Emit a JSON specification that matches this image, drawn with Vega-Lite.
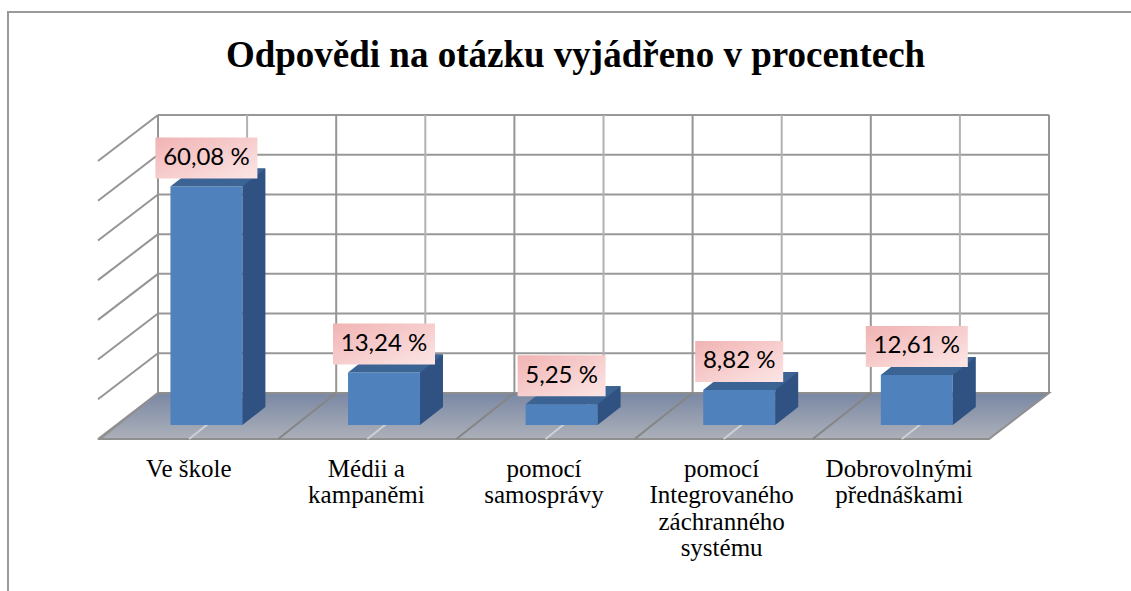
{
  "$schema": "https://vega.github.io/schema/vega-lite/v6.json",
  "autosize": {"type": "none"},
  "padding": {"left": 8, "top": 12, "right": 0, "bottom": 0},
  "width": 1123,
  "height": 579,
  "background": "white",
  "title": {
    "text": "Odpovědi na otázku vyjádřeno v procentech",
    "font": "Liberation Serif",
    "fontSize": 37,
    "fontWeight": "bold",
    "color": "#000000",
    "anchor": "middle",
    "baseline": "alphabetic",
    "offset": -92,
    "dx": 6
  },
  "datasets": {
    "bars": [
      {"cat": "Ve škole", "value": 60.08, "label": "60,08 %"},
      {"cat": "Médii a kampaněmi", "value": 13.24, "label": "13,24 %"},
      {"cat": "pomocí samosprávy", "value": 5.25, "label": "5,25 %"},
      {"cat": "pomocí Integrovaného záchranného systému", "value": 8.82, "label": "8,82 %"},
      {"cat": "Dobrovolnými přednáškami", "value": 12.61, "label": "12,61 %"}
    ],
    "hgrid": [{"v": 0}, {"v": 10}, {"v": 20}, {"v": 30}, {"v": 40}, {"v": 50}, {"v": 60}, {"v": 70}],
    "vgrid": [{"k": 0}, {"k": 0.5}, {"k": 1}, {"k": 1.5}, {"k": 2}, {"k": 2.5}, {"k": 3}, {"k": 3.5}, {"k": 4}, {"k": 4.5}, {"k": 5}]
  },
  "data": {"name": "bars"},
  "layer": [
    {
      "layer": [
        {
          "data": {"name": "hgrid"},
          "mark": {"type": "rule", "color": "#989898", "strokeWidth": 2, "yOffset": -32},
          "encoding": {
            "x": {"datum": 0, "type": "quantitative", "scale": {"domain": [0, 5], "range": [150, 1041], "nice": false, "zero": false}, "axis": null},
            "x2": {"datum": 5},
            "y": {"field": "v", "type": "quantitative", "scale": {"domain": [0, 70], "range": [413, 135], "nice": false}, "axis": null}
          }
        },
        {
          "data": {"name": "vgrid"},
          "mark": {"type": "rule", "strokeWidth": 2, "yOffset": -32, "y2Offset": -32},
          "encoding": {
            "x": {"field": "k", "type": "quantitative", "axis": null},
            "y": {"datum": 0, "type": "quantitative", "axis": null},
            "y2": {"datum": 70},
            "color": {"condition": {"test": "datum.k % 1 == 0", "value": "#959595"}, "value": "#b2b2b2"}
          }
        },
        {
          "data": {"name": "hgrid"},
          "mark": {"type": "point", "shape": "M 0 0 L -60 46", "size": 4, "filled": false, "stroke": "#959595", "strokeWidth": 2, "opacity": 1, "yOffset": -32},
          "encoding": {
            "x": {"datum": 0, "type": "quantitative", "axis": null},
            "y": {"field": "v", "type": "quantitative", "axis": null}
          }
        },
        {
          "data": {"values": [{"floor": "floor"}]},
          "mark": {
            "type": "point",
            "shape": "M 0 0 L 891 0 L 831 46 L -58 46 Z",
            "size": 4,
            "filled": true,
            "opacity": 1,
            "fill": {"gradient": "linear", "x1": 0, "y1": 0, "x2": 0, "y2": 1, "stops": [{"offset": 0, "color": "#7a88a4"}, {"offset": 1, "color": "#acb0b9"}]},
            "stroke": "#8f8f8f",
            "strokeWidth": 2,
            "yOffset": -32
          },
          "encoding": {
            "x": {"datum": 0, "type": "quantitative", "axis": null},
            "y": {"datum": 0, "type": "quantitative", "axis": null}
          }
        },
        {
          "data": {"name": "vgrid"},
          "transform": [{"filter": "datum.k > 0 && datum.k < 5"}],
          "mark": {"type": "point", "shape": "M 0 0 L -58 46", "size": 4, "filled": false, "strokeWidth": 2, "opacity": 1, "yOffset": -32},
          "encoding": {
            "x": {"field": "k", "type": "quantitative", "axis": null},
            "y": {"datum": 0, "type": "quantitative", "axis": null},
            "stroke": {"condition": {"test": "datum.k % 1 == 0", "value": "#858585"}, "value": "#cdd0d6"}
          }
        }
      ]
    },
    {
      "encoding": {
        "x": {
          "field": "cat", "type": "nominal", "sort": null,
          "scale": {"type": "band", "range": [109.6, 997.6], "paddingInner": 0.595, "paddingOuter": 0.2975},
          "axis": {
            "orient": "bottom", "offset": -152, "domain": false, "ticks": false, "grid": false, "title": null,
            "labelAngle": 0, "labelOffset": -17.6, "labelFont": "Liberation Serif", "labelFontSize": 25,
            "labelColor": "#000000", "labelPadding": 17, "labelBaseline": "top", "labelLineHeight": 26.5,
            "labelOverlap": false, "labelBound": false, "labelLimit": 0, "labelFlush": false,
            "labelExpr": "datum.label == 'Ve škole' ? datum.label : (datum.label == 'Médii a kampaněmi' ? ['Médii a', 'kampaněmi'] : split(datum.label, ' '))"
          }
        },
        "y": {"field": "value", "type": "quantitative", "axis": null}
      },
      "layer": [
        {
          "mark": {"type": "bar", "color": "#4f81bd"}
        },
        {
          "mark": {"type": "bar", "color": "#2f5283", "width": 23, "xOffset": 47.5, "yOffset": -18, "y2Offset": -18}
        },
        {
          "mark": {"type": "point", "shape": "M 36 0 L 59 -18 L 36 -18 Z", "size": 4, "filled": true, "opacity": 1, "fill": "#2f5283", "strokeWidth": 0},
          "encoding": {
            "y": {"datum": 0, "type": "quantitative", "axis": null}
          }
        },
        {
          "mark": {"type": "point", "shape": "M -36 0 L 36 0 L 59 -18 L -13 -18 Z", "size": 4, "filled": true, "opacity": 1, "fill": "#3b6494", "strokeWidth": 0}
        },
        {
          "mark": {
            "type": "bar", "yOffset": -49, "y2Offset": -8,
            "fill": {"gradient": "linear", "x1": 0, "y1": 0, "x2": 1, "y2": 1, "stops": [{"offset": 0, "color": "#f1b3b3"}, {"offset": 1, "color": "#fce6e6"}]}
          },
          "encoding": {
            "y2": {"field": "value"},
            "size": {"condition": {"test": "datum.value >= 10", "value": 102}, "value": 88}
          }
        },
        {
          "mark": {"type": "text", "font": "Lato", "fontSize": 24, "color": "#000000", "baseline": "middle", "align": "center", "yOffset": -28.5},
          "encoding": {
            "text": {"field": "label"}
          }
        }
      ]
    }
  ],
  "resolve": {"scale": {"x": "independent"}, "axis": {"x": "independent"}},
  "config": {
    "view": {"stroke": "#9a9a9a", "strokeWidth": 2, "strokeDash": [1124, 1701, 580, 0]}
  }
}
